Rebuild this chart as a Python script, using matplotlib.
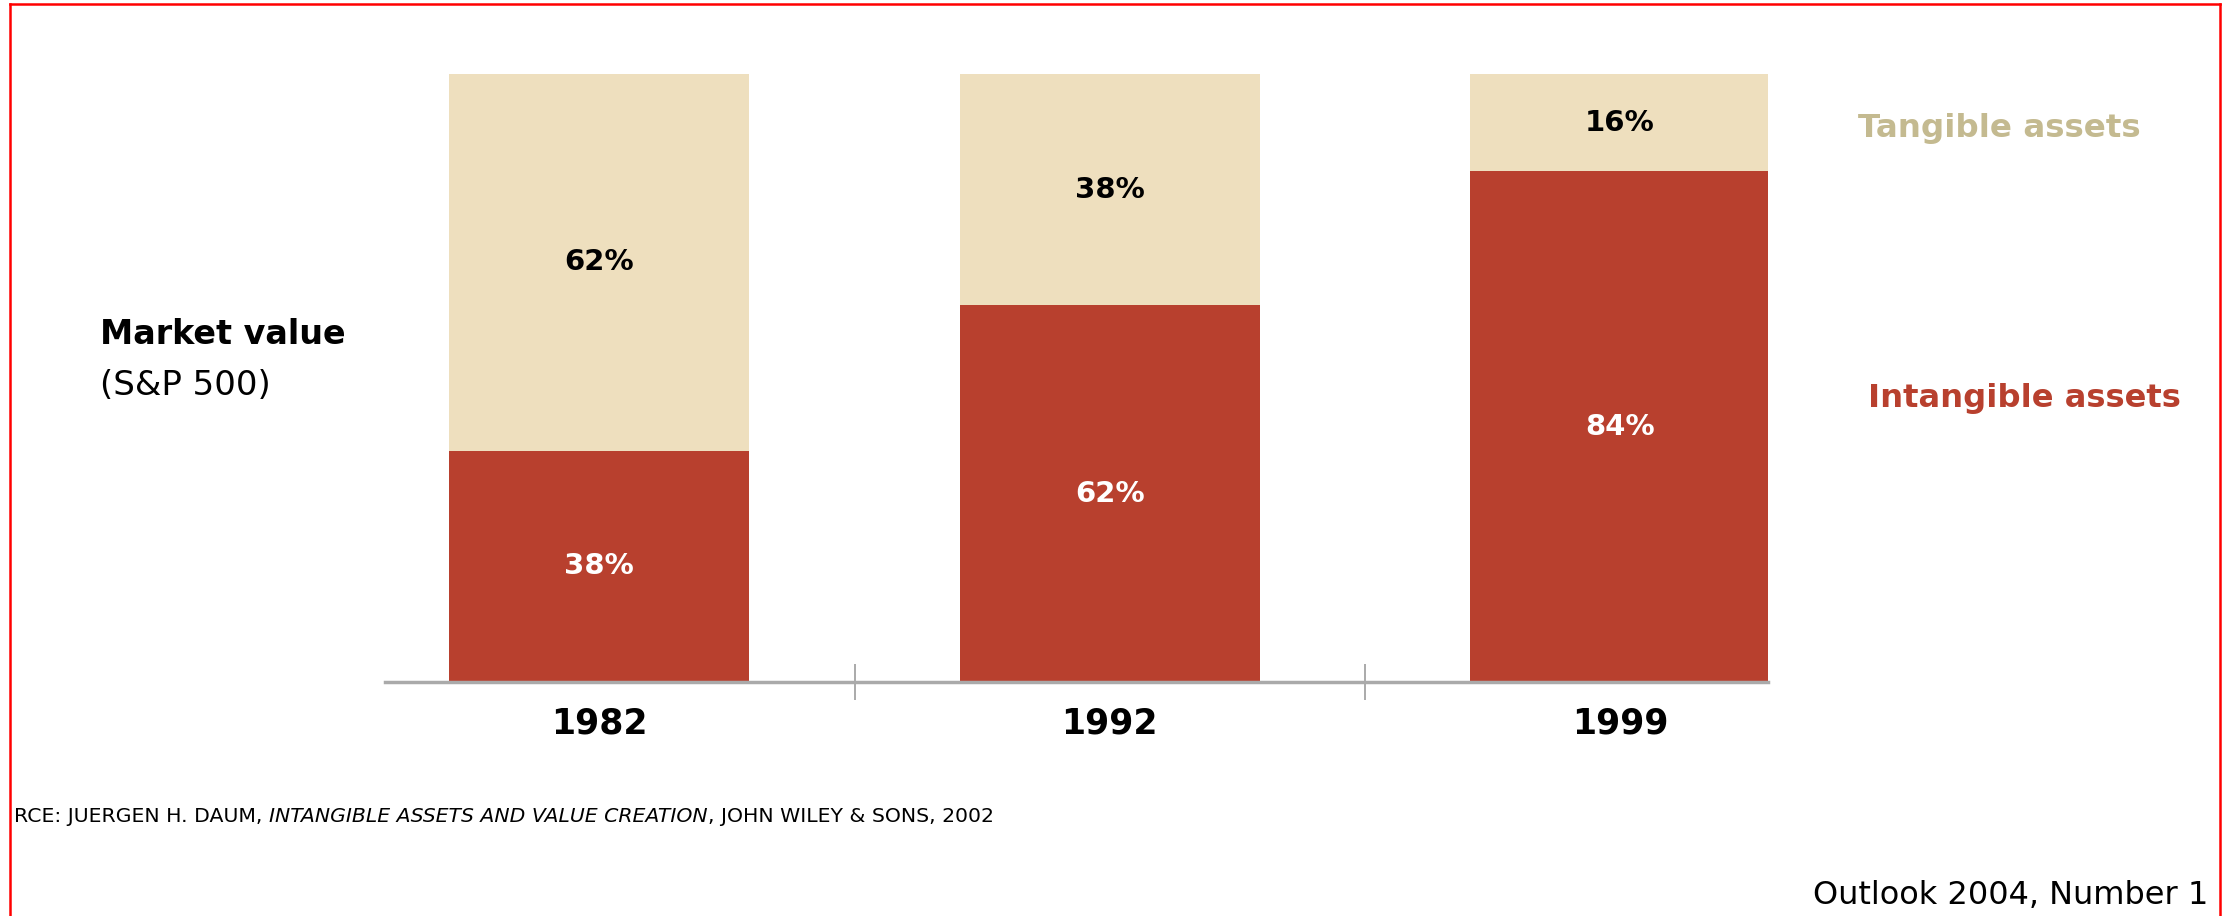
import matplotlib
matplotlib.use("Agg")
import matplotlib.pyplot as plt
from matplotlib.lines import Line2D

# data
years = ["1982", "1992", "1999"]
intangible = [38, 62, 84]
tangible = [62, 38, 16]

red = "#b8402e"
tan = "#eedfbe"
tan_text = "#c4ba90"

W, H = 2236, 916
fig = plt.figure(figsize=(W / 100, H / 100), dpi=100)
fig.patch.set_facecolor("white")

ax = fig.add_axes([385 / W, 1 - 682 / H, (1768 - 385) / W, (682 - 74) / H])
x = list(range(len(years)))
ax.bar(x, intangible, width=0.588, color=red)
ax.bar(x, tangible, width=0.588, bottom=intangible, color=tan)

for i in x:
    ax.text(i, intangible[i] + tangible[i] / 2, f"{tangible[i]}%", ha="center", va="center",
            fontsize=21, fontweight="bold", color="black")
    ax.text(i, intangible[i] / 2, f"{intangible[i]}%", ha="center", va="center",
            fontsize=21, fontweight="bold", color="white")

ax.set_xlim(-0.42, 2.29)
ax.set_ylim(0, 100)
ax.set_xticks(x)
ax.set_xticklabels(years, fontsize=25, fontweight="bold")
ax.set_xticks([0.5, 1.5], minor=True)
ax.tick_params(axis="x", which="major", length=0, pad=18)
ax.tick_params(axis="x", which="minor", length=26, width=1.4, direction="inout", color="#aaaaaa")
ax.set_yticks([])
for s in ["top", "right", "left"]:
    ax.spines[s].set_visible(False)
ax.spines["bottom"].set_color("#aaaaaa")
ax.spines["bottom"].set_linewidth(2.5)

fig.text(100 / W, 1 - 334 / H, "Market value", fontsize=24, fontweight="bold", va="center")
fig.text(100 / W, 1 - 385 / H, "(S&P 500)", fontsize=24.5, va="center")
fig.text(1858 / W, 1 - 128 / H, "Tangible assets", fontsize=23.4, fontweight="bold",
         color=tan_text, va="center")
fig.text(1868 / W, 1 - 399 / H, "Intangible assets", fontsize=23.2, fontweight="bold",
         color=red, va="center")
fig.text(2208 / W, 1 - 896 / H, "Outlook 2004, Number 1", fontsize=23, ha="right", va="center")

# source line, middle part in italics
r = fig.canvas.get_renderer()
parts = [("RCE: JUERGEN H. DAUM,", "normal", 7), ("INTANGIBLE ASSETS AND VALUE CREATION", "italic", 0),
         (", JOHN WILEY & SONS, 2002", "normal", 0)]
xpos = 14 / W
for txt, st, gap in parts:
    t = fig.text(xpos, 1 - 817 / H, txt, fontsize=14.7, style=st, va="center",
                 family="Liberation Sans Narrow")
    bb = t.get_window_extent(renderer=r)
    xpos = (bb.x1 + gap) / fig.bbox.width

# red frame
L, R, T = 10 / W, 2220 / W, 1 - 4 / H
for xs, ys in [([L, L], [0, T]), ([L, R], [T, T]), ([R, R], [0, T])]:
    fig.add_artist(Line2D(xs, ys, transform=fig.transFigure, color="red", linewidth=1.8))

fig.savefig("out.png", dpi=100)
